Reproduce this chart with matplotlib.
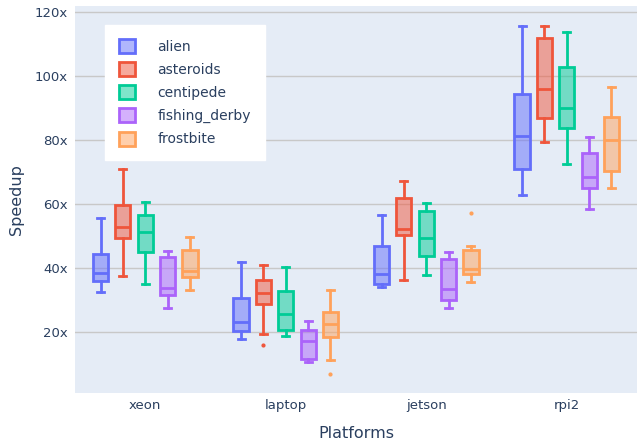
import numpy as np
import matplotlib
matplotlib.use("Agg")
import matplotlib.pyplot as plt
from matplotlib.patches import Patch

#%% datos (speedup por plataforma)
plataformas = ["xeon", "laptop", "jetson", "rpi2"]
juegos = ["alien", "asteroids", "centipede", "fishing_derby", "frostbite"]
colores = ["#636EFA", "#EF553B", "#00CC96", "#AB63FA", "#FFA15A"]

# cada lista: [xeon, laptop, jetson, rpi2]
alien_lo = [32.6, 17.8, 34.1, 63.0]
alien_q1 = [35.9, 20.5, 35.2, 70.9]
alien_med = [38.5, 23.2, 38.3, 81.4]
alien_q3 = [44.6, 30.7, 46.9, 94.5]
alien_hi = [55.6, 41.9, 56.6, 115.8]
alien_out = [[], [], [], []]

asteroids_lo = [37.5, 19.4, 36.4, 79.5]
asteroids_q1 = [49.4, 28.8, 50.3, 86.8]
asteroids_med = [52.9, 32.2, 52.4, 95.9]
asteroids_q3 = [59.6, 36.4, 62.0, 112.0]
asteroids_hi = [70.9, 41.0, 67.4, 115.8]
asteroids_out = [[], [16.1], [], []]

centipede_lo = [35.0, 18.9, 37.8, 72.7]
centipede_q1 = [45.2, 20.6, 43.8, 83.9]
centipede_med = [51.2, 25.8, 49.4, 89.9]
centipede_q3 = [56.6, 32.8, 57.9, 102.7]
centipede_hi = [60.8, 40.5, 60.3, 113.9]
centipede_out = [[], [], [], []]

fishing_lo = [27.6, 10.6, 27.6, 58.6]
fishing_q1 = [31.8, 11.8, 30.2, 65.2]
fishing_med = [33.9, 17.2, 33.6, 68.4]
fishing_q3 = [43.6, 20.6, 43.0, 76.1]
fishing_hi = [45.4, 23.6, 45.2, 81.0]
fishing_out = [[], [], [], []]

frostbite_lo = [33.3, 11.2, 35.8, 65.1]
frostbite_q1 = [37.3, 18.5, 38.2, 70.5]
frostbite_med = [39.0, 22.5, 39.9, 80.0]
frostbite_q3 = [45.6, 26.3, 45.7, 87.3]
frostbite_hi = [49.9, 33.2, 47.1, 96.6]
frostbite_out = [[], [7.1], [57.2], []]

series = [
    (alien_lo, alien_q1, alien_med, alien_q3, alien_hi, alien_out),
    (asteroids_lo, asteroids_q1, asteroids_med, asteroids_q3, asteroids_hi, asteroids_out),
    (centipede_lo, centipede_q1, centipede_med, centipede_q3, centipede_hi, centipede_out),
    (fishing_lo, fishing_q1, fishing_med, fishing_q3, fishing_hi, fishing_out),
    (frostbite_lo, frostbite_q1, frostbite_med, frostbite_q3, frostbite_hi, frostbite_out),
]

#%% grafico
texto = "#2a3f5f"
fig = plt.figure(figsize=(6.39, 4.42), dpi=100)
ax = fig.add_axes([75 / 639, 1 - 392.5 / 442, 562 / 639, 386.5 / 442])
ax.set_facecolor("#E5ECF6")

x = np.arange(len(plataformas))
paso = 0.159
for i, (lo, q1, med, q3, hi, out) in enumerate(series):
    stats = [dict(whislo=lo[k], q1=q1[k], med=med[k], q3=q3[k], whishi=hi[k],
                  fliers=out[k]) for k in range(len(plataformas))]
    c = colores[i]
    ax.bxp(stats, positions=x + (i - 2) * paso, widths=0.108, patch_artist=True,
           showfliers=True, manage_ticks=False,
           boxprops=dict(facecolor=matplotlib.colors.to_rgba(c, 0.5), edgecolor=c, linewidth=2),
           medianprops=dict(color=c, linewidth=2),
           whiskerprops=dict(color=c, linewidth=2),
           capprops=dict(color=c, linewidth=2),
           capwidths=0.05,
           flierprops=dict(marker="o", markersize=2, markerfacecolor=c, markeredgecolor=c))

ax.set_xlim(-0.5, 3.5)
ax.set_ylim(1.2, 121.9)
ax.set_yticks([20, 40, 60, 80, 100, 120])
ax.set_yticklabels([f"{v}x" for v in [20, 40, 60, 80, 100, 120]])
ax.set_xticks(x)
ax.set_xticklabels(plataformas)
ax.grid(axis="y", color="#c8c8c8", linewidth=1)
ax.set_axisbelow(True)
for s in ax.spines.values():
    s.set_visible(False)
ax.tick_params(length=0, labelsize=9.5, colors=texto, pad=5)
ax.set_xlabel("Platforms", fontsize=11.5, color=texto, labelpad=10)
ax.set_ylabel("Speedup", fontsize=11.5, color=texto, labelpad=8)

handles = [Patch(facecolor=matplotlib.colors.to_rgba(c, 0.5), edgecolor=c, linewidth=2, label=j)
           for j, c in zip(juegos, colores)]
leg = ax.legend(handles=handles, loc="upper left", bbox_to_anchor=(0.053, 0.951),
                frameon=True, fancybox=False, borderaxespad=0, fontsize=10,
                handlelength=1.2, handleheight=1.2, handletextpad=1.6,
                labelspacing=0.6, borderpad=1.0)
leg.get_frame().set_facecolor("white")
leg.get_frame().set_edgecolor("white")
leg.get_frame().set_alpha(1)
for t in leg.get_texts():
    t.set_color(texto)

fig.savefig("out.png", dpi=100)
